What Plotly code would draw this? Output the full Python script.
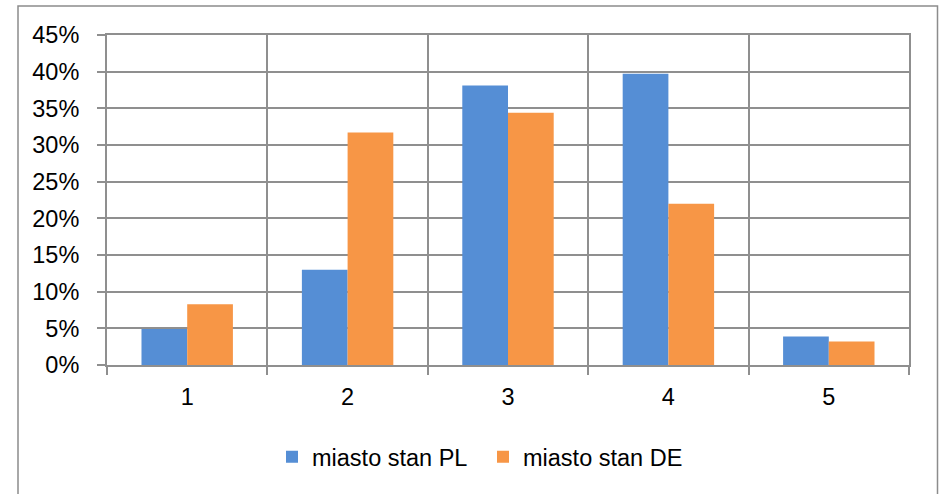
import plotly.graph_objects as go

categories = ["1", "2", "3", "4", "5"]
pl_values = [0.049, 0.130, 0.381, 0.397, 0.039]
de_values = [0.083, 0.317, 0.344, 0.220, 0.032]
series_names = ["miasto stan PL", "miasto stan DE"]
y_ticks = [0, 0.05, 0.10, 0.15, 0.20, 0.25, 0.30, 0.35, 0.40, 0.45]

FONT = "Liberation Sans"
FS = 23.5
GRID = "#8f8f8f"

fig = go.Figure()
fig.add_trace(go.Bar(x=categories, y=pl_values, name=series_names[0],
                     marker=dict(color="#558ed5", line=dict(width=0))))
fig.add_trace(go.Bar(x=categories, y=de_values, name=series_names[1],
                     marker=dict(color="#f79646", line=dict(width=0))))

W, H = 939, 494
L, T = 107, 34.5
R = W - 909
B = H - 365
pw = W - L - R
ph = H - T - B

def px(x):
    return (x - L) / pw

def py(y):
    return (H - B - y) / ph

fig.update_layout(
    width=W, height=H,
    margin=dict(l=L, r=R, t=T, b=B, pad=0),
    paper_bgcolor="white", plot_bgcolor="white",
    barmode="group", bargap=0.43, bargroupgap=0,
    font=dict(family=FONT, size=FS, color="#000000"),
    showlegend=True,
    legend=dict(orientation="h", x=px(272), xanchor="left", y=py(457), yanchor="middle",
                font=dict(family=FONT, size=FS), itemwidth=30, tracegroupgap=0,
                entrywidth=166, bgcolor="rgba(0,0,0,0)"),
    xaxis=dict(type="category", tickson="boundaries", showgrid=True, gridcolor=GRID, gridwidth=2,
               ticks="outside", ticklen=8, tickwidth=2, tickcolor=GRID,
               showline=True, linecolor=GRID, linewidth=2, mirror=True,
               tickfont=dict(family=FONT, size=FS), ticklabelstandoff=10),
    yaxis=dict(range=[0, 0.45], tickvals=y_ticks, tickformat=".0%",
               showgrid=True, gridcolor=GRID, gridwidth=2,
               ticks="outside", ticklen=8, tickwidth=2, tickcolor=GRID,
               showline=True, linecolor=GRID, linewidth=2, mirror=True, zeroline=False,
               tickfont=dict(family=FONT, size=FS), ticklabelstandoff=13),
)

fig.add_shape(type="rect", xref="paper", yref="paper",
              x0=px(18), x1=px(937.5), y0=py(500), y1=py(5.5),
              line=dict(color="#8c8c8c", width=1.5), fillcolor="rgba(0,0,0,0)", layer="below")

fig.write_html("out.html", config={"displayModeBar": False},
               post_script="document.body.style.margin='0';document.body.style.overflow='hidden';")
